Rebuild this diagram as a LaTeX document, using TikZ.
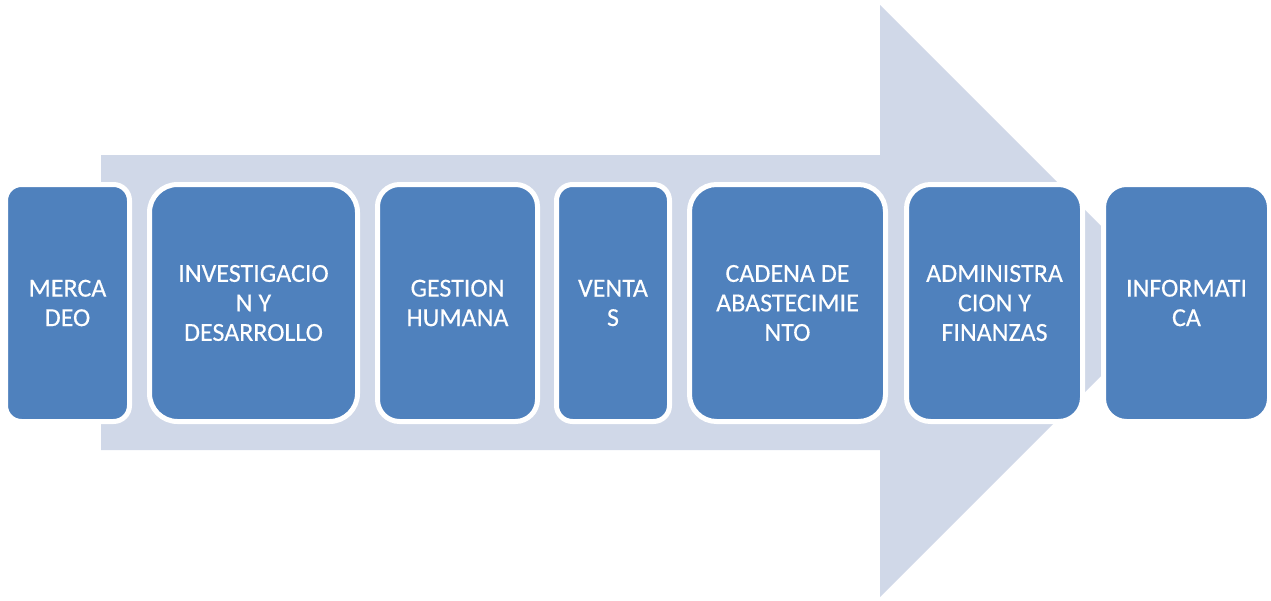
\documentclass[tikz,border=0pt]{standalone}
\usepackage{fontspec}
\setmainfont{Carlito}
\newfontfamily\stagefont{Carlito}[FakeBold=0.3]
\definecolor{arrowfill}{RGB}{208,216,232}
\definecolor{boxfill}{RGB}{79,129,189}
\begin{document}
\begin{tikzpicture}[x=1pt,y=-1pt,
  stagebox/.style={rectangle, fill=boxfill, draw=white, line width=5pt,
    minimum height=237pt, inner sep=0pt, align=center, text=white,
    font=\stagefont\fontsize{26}{29.5}\selectfont}]
\useasboundingbox (0,0) rectangle (1271,600);
% background process arrow
\fill[arrowfill] (101,155) -- (880,155) -- (880,5) -- (1176,301)
  -- (880,597) -- (880,450) -- (101,450) -- cycle;
% stages
\node[stagebox, minimum width=124pt, rounded corners=16pt] (m) at (67.5,303) {MERCA\\DEO};
\node[stagebox, minimum width=208pt, rounded corners=28pt] (i) at (253.5,303) {INVESTIGACIO\\N Y\\DESARROLLO};
\node[stagebox, minimum width=160pt, rounded corners=22pt] (g) at (457.5,303) {GESTION\\HUMANA};
\node[stagebox, minimum width=113pt, rounded corners=16pt] (v) at (613,303) {VENTA\\S};
\node[stagebox, minimum width=196pt, rounded corners=27pt] (c) at (787.5,303) {CADENA DE\\ABASTECIMIE\\NTO};
\node[stagebox, minimum width=176pt, rounded corners=24pt] (a) at (994.5,303) {ADMINISTRA\\CION Y\\FINANZAS};
\node[stagebox, minimum width=166pt, rounded corners=23pt] (f) at (1186.5,303) {INFORMATI\\CA};
\end{tikzpicture}
\end{document}
